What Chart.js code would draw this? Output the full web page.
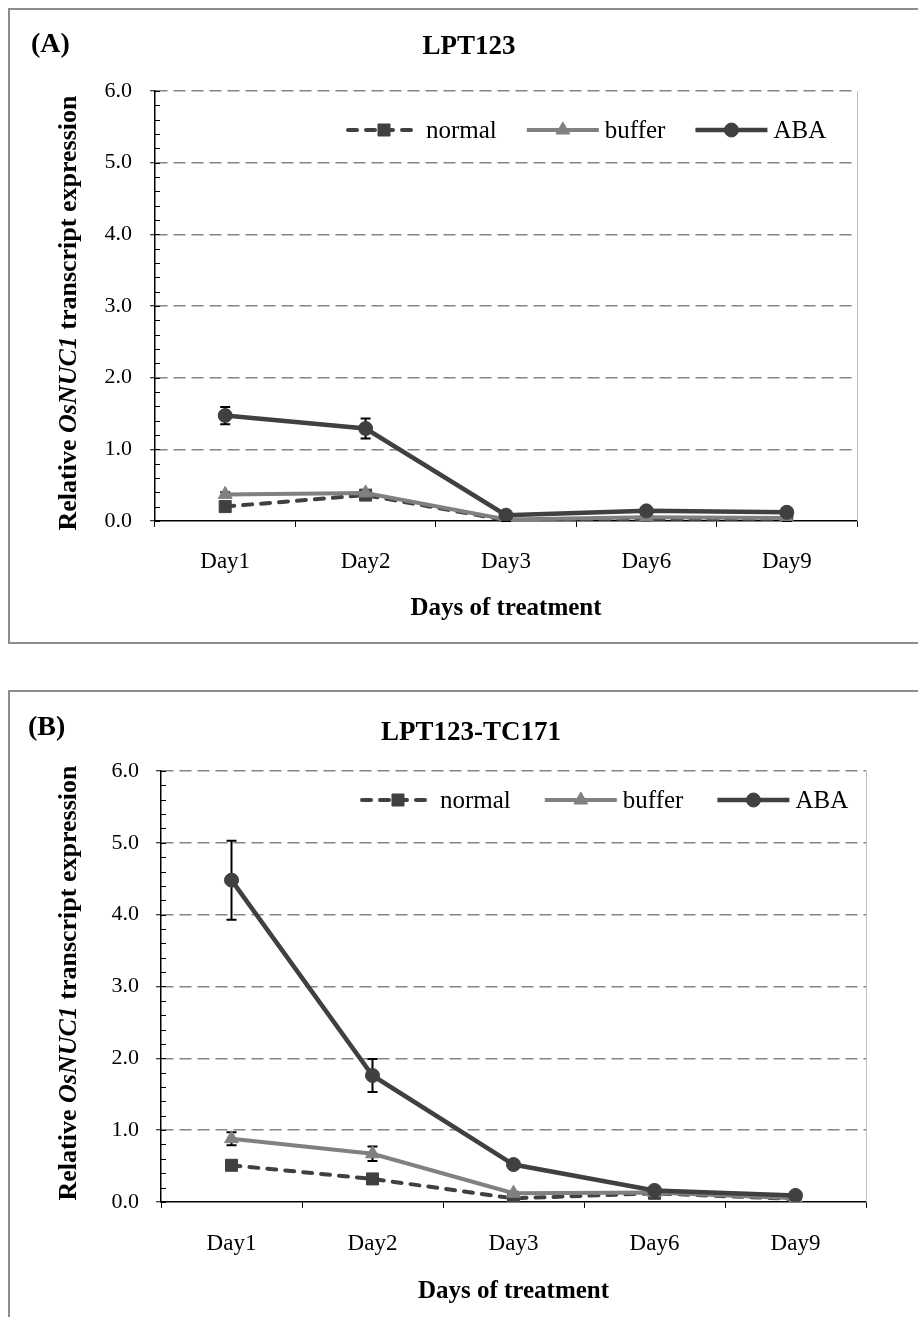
<!DOCTYPE html>
<html>
<head>
<meta charset="utf-8">
<script src="https://cdn.jsdelivr.net/npm/chart.js@4.4.0/dist/chart.umd.min.js"></script>
<style>
  body { margin: 0; background: #fff; width: 918px; height: 1317px; overflow: hidden; position: relative;
         font-family: 'Liberation Serif', 'Times New Roman', serif; color: #000; }
  .panel { position: absolute; left: 8px; border-left: 2px solid #8c8c8c; border-top: 2px solid #8c8c8c; }
  #panelA { top: 8px; width: 940px; height: 632px; border-bottom: 2px solid #8c8c8c; }
  #panelB { top: 690px; width: 940px; height: 700px; }
  .panel canvas { position: absolute; left: 0; top: 0; }
  .tag { position: absolute; font-weight: bold; font-size: 28px; line-height: 28px; }
  .ytitle { position: absolute; font-weight: bold; font-size: 26px; white-space: nowrap;
            transform: translate(-50%, -50%) rotate(-90deg); }
</style>
</head>
<body>
<div class="panel" id="panelA"><canvas id="chartA" width="918" height="632"></canvas></div>
<div class="panel" id="panelB"><canvas id="chartB" width="922" height="625"></canvas></div>
<div class="tag" style="left:31px; top:29px;">(A)</div>
<div class="tag" style="left:28px; top:712px;">(B)</div>
<div class="ytitle" style="left:68px; top:313px;">Relative <i>OsNUC1</i> transcript expression</div>
<div class="ytitle" style="left:68px; top:983px;">Relative <i>OsNUC1</i> transcript expression</div>

<script>
const days = ['Day1', 'Day2', 'Day3', 'Day6', 'Day9'];
const seriesNames = ['normal', 'buffer', 'ABA'];

// panel A - LPT123
const normalA = [0.20, 0.36, 0.01, 0.02, 0.01];
const bufferA = [0.37, 0.39, 0.02, 0.05, 0.04];
const abaA = [1.47, 1.29, 0.08, 0.14, 0.12];
const normalErrA = [0.03, 0.03, 0.01, 0.01, 0.01];
const bufferErrA = [0.03, 0.04, 0.01, 0.01, 0.01];
const abaErrA = [0.12, 0.14, 0.02, 0.02, 0.02];

// panel B - LPT123-TC171
const normalB = [0.51, 0.32, 0.05, 0.12, 0.04];
const bufferB = [0.88, 0.67, 0.12, 0.13, 0.05];
const abaB = [4.48, 1.76, 0.52, 0.16, 0.09];
const normalErrB = [0.05, 0.06, 0.02, 0.02, 0.01];
const bufferErrB = [0.09, 0.10, 0.02, 0.02, 0.01];
const abaErrB = [0.55, 0.23, 0.04, 0.02, 0.02];

const family = "'Liberation Serif', 'Times New Roman', serif";

// minor ticks inside the y axis + light right edge of plot area
const axisDecor = {
    id: 'axisDecor',
    beforeDatasetsDraw(chart) {
        const { ctx, chartArea: a, scales: { y } } = chart;
        ctx.save();
        ctx.strokeStyle = '#000';
        ctx.lineWidth = 1;
        for (let k = 0; k <= 30; k++) {
            const py = Math.round(y.getPixelForValue(k * 0.2)) + 0.5;
            ctx.beginPath();
            ctx.moveTo(a.left, py);
            ctx.lineTo(a.left + 5, py);
            ctx.stroke();
        }
        ctx.strokeStyle = '#c0c0c0';
        ctx.beginPath();
        ctx.moveTo(a.right + 0.5, a.top);
        ctx.lineTo(a.right + 0.5, a.bottom);
        ctx.stroke();
        ctx.restore();
    }
};

const errorBars = {
    id: 'errorBars',
    beforeDatasetsDraw(chart) {
        const { ctx, scales: { x, y } } = chart;
        ctx.save();
        ctx.strokeStyle = '#000';
        ctx.lineWidth = 2;
        chart.data.datasets.forEach(ds => {
            ds.data.forEach((v, i) => {
                const e = ds.errors[i];
                const px = x.getPixelForValue(i);
                const top = y.getPixelForValue(v + e);
                const bot = y.getPixelForValue(Math.max(v - e, 0));
                ctx.beginPath();
                ctx.moveTo(px, top); ctx.lineTo(px, bot);
                ctx.moveTo(px - 5, top); ctx.lineTo(px + 5, top);
                ctx.moveTo(px - 5, bot); ctx.lineTo(px + 5, bot);
                ctx.stroke();
            });
        });
        ctx.restore();
    }
};

// legend with line + marker, like the spreadsheet one
const lineLegend = {
    id: 'lineLegend',
    afterDraw(chart, args, opts) {
        const ctx = chart.ctx;
        let xPos = opts.x;
        ctx.save();
        ctx.font = '25px ' + family;
        ctx.textBaseline = 'middle';
        chart.data.datasets.forEach(ds => {
            ctx.save();
            ctx.strokeStyle = ds.borderColor;
            ctx.lineWidth = ds.borderWidth;
            ctx.lineCap = ds.borderCapStyle || 'butt';
            ctx.setLineDash(ds.borderDash || []);
            ctx.beginPath();
            ctx.moveTo(xPos, opts.y);
            ctx.lineTo(xPos + 72, opts.y);
            ctx.stroke();
            ctx.restore();
            ctx.fillStyle = ds.pointBackgroundColor;
            ctx.strokeStyle = ds.pointBorderColor;
            ctx.lineWidth = 1;
            Chart.helpers.drawPoint(ctx, { pointStyle: ds.pointStyle, radius: ds.pointRadius, rotation: 0, borderWidth: 1 }, xPos + 36, opts.y);
            ctx.fillStyle = '#000';
            ctx.fillText(ds.label, xPos + 78, opts.y + 1);
            xPos += 78 + ctx.measureText(ds.label).width + opts.gap;
        });
        ctx.restore();
    }
};

function makeChart(id, title, normal, buffer, aba, errN, errBuf, errAba, lay) {
    return new Chart(document.getElementById(id), {
        type: 'line',
        data: {
            labels: days,
            datasets: [{
                label: seriesNames[0],
                data: normal,
                errors: errN,
                borderColor: '#404040',
                borderWidth: 4,
                borderDash: [9, 9],
                borderCapStyle: 'round',
                pointStyle: 'rect',
                pointRadius: 8.5,
                pointBackgroundColor: '#404040',
                pointBorderColor: '#404040',
                pointBorderWidth: 1,
                tension: 0,
                order: 2
            }, {
                label: seriesNames[1],
                data: buffer,
                errors: errBuf,
                borderColor: '#808080',
                borderWidth: 4,
                pointStyle: 'triangle',
                pointRadius: 8,
                pointBackgroundColor: '#808080',
                pointBorderColor: '#808080',
                pointBorderWidth: 1,
                tension: 0,
                order: 1
            }, {
                label: seriesNames[2],
                data: aba,
                errors: errAba,
                borderColor: '#404040',
                borderWidth: 4.5,
                pointStyle: 'circle',
                pointRadius: 7,
                pointBackgroundColor: '#404040',
                pointBorderColor: '#404040',
                pointBorderWidth: 1,
                tension: 0,
                order: 0
            }]
        },
        options: {
            responsive: false,
            animation: false,
            devicePixelRatio: 1,
            layout: { padding: { left: 0, right: 0, top: 0, bottom: lay.bottom } },
            plugins: {
                legend: { display: false },
                tooltip: { enabled: false },
                title: {
                    display: true,
                    text: title,
                    color: '#000',
                    font: { family: family, size: 27, weight: 'bold' },
                    padding: { top: lay.titleTop, bottom: lay.titleBottom }
                },
                lineLegend: { x: lay.legX, y: lay.legY, gap: lay.legGap }
            },
            scales: {
                x: {
                    offset: true,
                    grid: { offset: true, drawOnChartArea: false, tickLength: 6, color: '#000', tickColor: '#000', tickWidth: 1 },
                    border: { color: '#000', width: 1.5 },
                    ticks: { color: '#000', font: { family: family, size: 23 }, padding: lay.xPad, maxRotation: 0 },
                    title: {
                        display: true,
                        text: 'Days of treatment',
                        color: '#000',
                        font: { family: family, size: 25, weight: 'bold' },
                        padding: { top: -4, bottom: 8 }
                    }
                },
                y: {
                    min: 0,
                    max: 6,
                    afterFit: s => { s.width = lay.yWidth; },
                    ticks: {
                        stepSize: 1,
                        color: '#000',
                        font: { family: family, size: 22 },
                        padding: lay.yPad,
                        callback: v => Number(v).toFixed(1)
                    },
                    grid: {
                        color: c => (c.tick && c.tick.value === 0) ? 'rgba(0,0,0,0)' : '#858585',
                        lineWidth: 1.5,
                        tickLength: 5,
                        tickColor: '#000',
                        tickWidth: 1
                    },
                    border: { color: '#000', width: 1.5, dash: [12, 6] }
                },
                // empty right-hand axis, only keeps space so the title stays centred on the whole chart
                yRight: {
                    position: 'right',
                    min: 0,
                    max: 6,
                    afterFit: s => { s.width = lay.rightWidth; },
                    ticks: { display: false },
                    grid: { display: false, drawTicks: false },
                    border: { display: false }
                }
            }
        },
        plugins: [axisDecor, errorBars, lineLegend]
    });
}

makeChart('chartA', 'LPT123', normalA, bufferA, abaA, normalErrA, bufferErrA, abaErrA, {
    rightWidth: 71, bottom: 10.5, yWidth: 145, yPad: 18, xPad: 21.5,
    titleTop: 20.8, titleBottom: 27.8, legX: 338, legY: 120, legGap: 30
});

makeChart('chartB', 'LPT123-TC171', normalB, bufferB, abaB, normalErrB, bufferErrB, abaErrB, {
    rightWidth: 66, bottom: 2.5, yWidth: 151, yPad: 17, xPad: 22.5,
    titleTop: 24.8, titleBottom: 21.8, legX: 352, legY: 108, legGap: 34
});
</script>
</body>
</html>
